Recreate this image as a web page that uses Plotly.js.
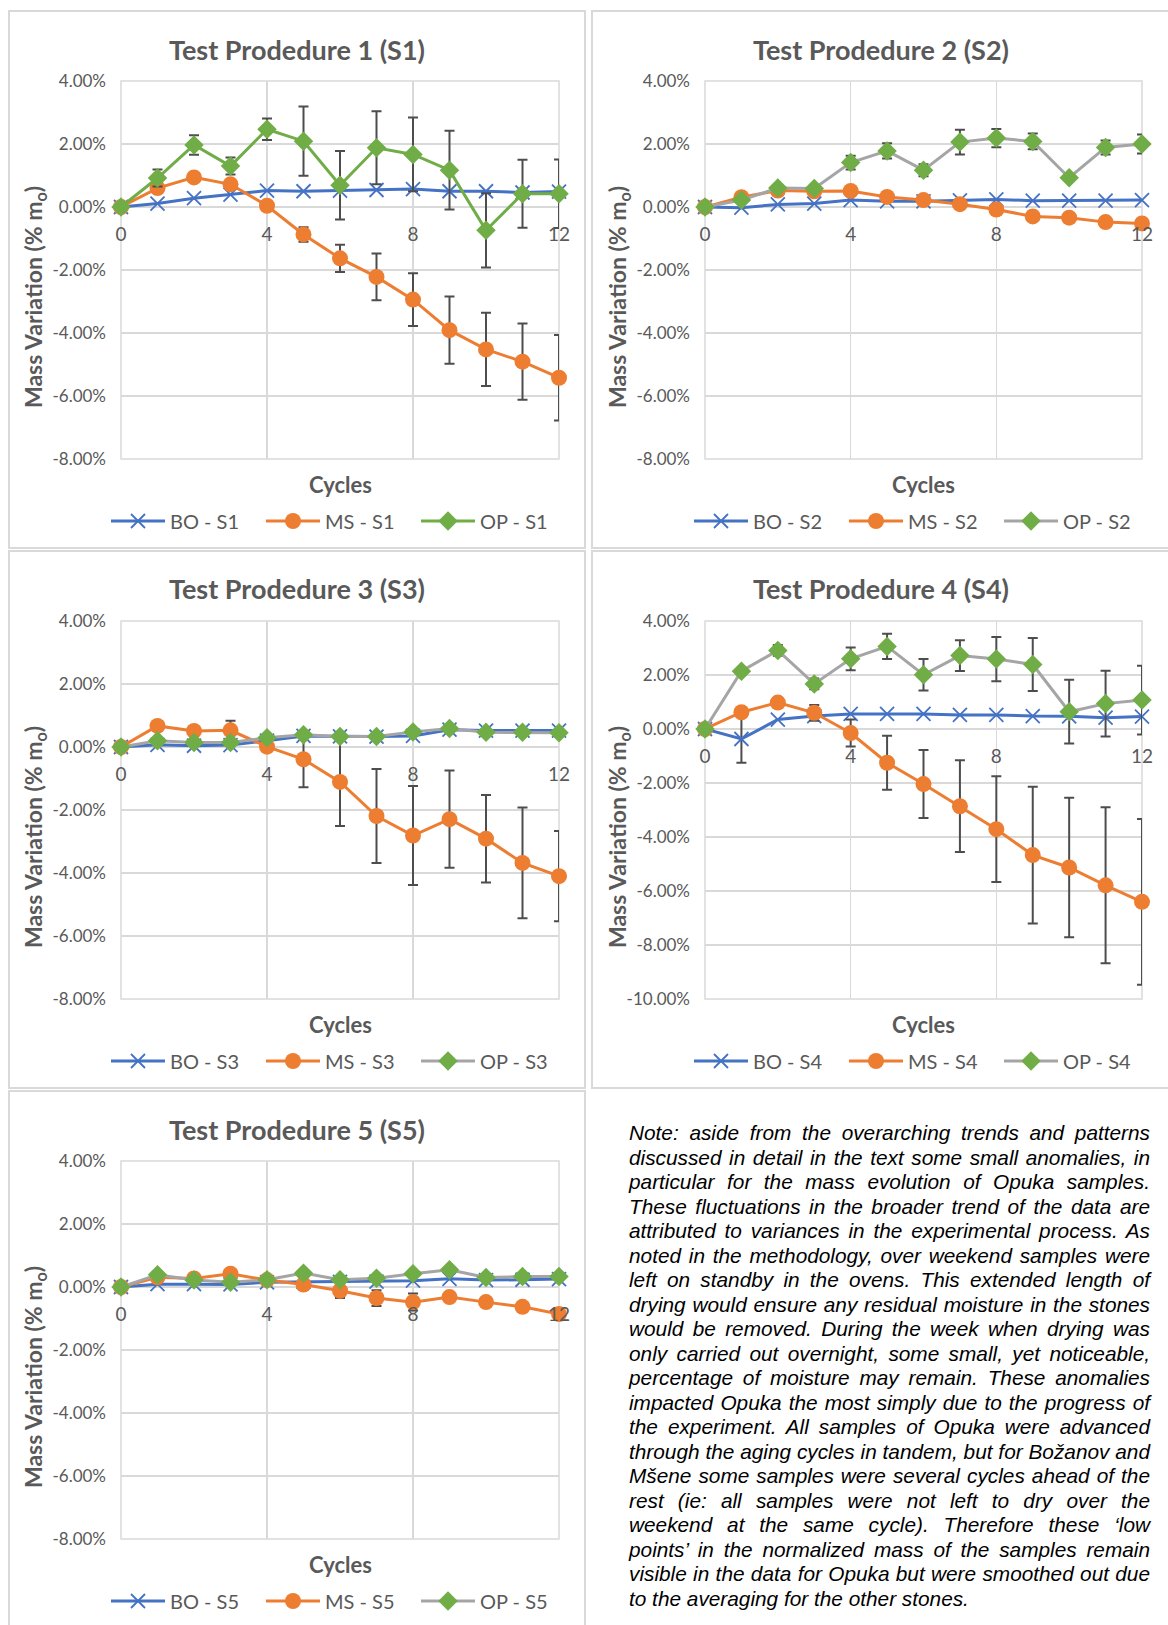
<!DOCTYPE html>
<html>
<head>
<meta charset="utf-8">
<script src="https://cdn.plot.ly/plotly-3.0.1.min.js"></script>
<style>
  html, body { margin: 0; padding: 0; background: #fff; }
  #wrap { position: relative; width: 1168px; height: 1625px; overflow: hidden; }
  #chart { position: absolute; left: 0; top: 0; width: 1168px; height: 1625px; }
  #note {
    position: absolute; left: 629px; top: 1121px; width: 521px;
    font-family: "Liberation Sans", Arial, sans-serif; font-style: italic;
    font-size: 20.8px; line-height: 24.5px; color: #000;
  }
  #note div { text-align: justify; text-align-last: justify; white-space: nowrap; }
  #note div.last { text-align-last: left; }
</style>
</head>
<body>
<div id="wrap">
  <div id="chart"></div>
  <div id="note"></div>
</div>
<script>
// Aging cycles (x axis) and tick labels
const cycles = [0, 1, 2, 3, 4, 5, 6, 7, 8, 9, 10, 11, 12];
const xTickVals = [0, 4, 8, 12];
const xTickText = ['0', '4', '8', '12'];
const yTickVals8 = [4, 2, 0, -2, -4, -6, -8];
const yTickText8 = ['4.00%', '2.00%', '0.00%', '-2.00%', '-4.00%', '-6.00%', '-8.00%'];
const yTickVals10 = [4, 2, 0, -2, -4, -6, -8, -10];
const yTickText10 = ['4.00%', '2.00%', '0.00%', '-2.00%', '-4.00%', '-6.00%', '-8.00%', '-10.00%'];

// Mass variation (% of initial mass) with standard deviations
// S1
const boS1 = [0, 0.11, 0.28, 0.39, 0.52, 0.50, 0.52, 0.54, 0.57, 0.50, 0.50, 0.46, 0.49];
const msS1 = [0, 0.60, 0.94, 0.72, 0.04, -0.87, -1.63, -2.22, -2.94, -3.91, -4.52, -4.91, -5.42];
const msS1Err = [0, 0.10, 0.10, 0.10, 0.10, 0.23, 0.43, 0.74, 0.84, 1.07, 1.16, 1.21, 1.36];
const opS1 = [0, 0.92, 1.97, 1.30, 2.47, 2.09, 0.69, 1.88, 1.67, 1.17, -0.74, 0.42, 0.42];
const opS1Err = [0, 0.27, 0.31, 0.27, 0.34, 1.10, 1.09, 1.16, 1.17, 1.25, 1.18, 1.08, 1.09];
// S2
const boS2 = [0, -0.02, 0.08, 0.11, 0.22, 0.18, 0.18, 0.21, 0.24, 0.20, 0.20, 0.20, 0.22];
const msS2 = [0, 0.31, 0.52, 0.50, 0.51, 0.32, 0.22, 0.09, -0.08, -0.30, -0.34, -0.48, -0.52];
const msS2Err = [0, 0.08, 0.08, 0.08, 0.08, 0.08, 0.08, 0.08, 0.08, 0.08, 0.08, 0.08, 0.08];
const opS2 = [0, 0.22, 0.60, 0.59, 1.41, 1.78, 1.17, 2.06, 2.19, 2.08, 0.93, 1.89, 2.00];
const opS2Err = [0, 0.05, 0.06, 0.06, 0.22, 0.24, 0.19, 0.39, 0.29, 0.25, 0.10, 0.22, 0.30];
// S3
const boS3 = [0, 0.07, 0.04, 0.06, 0.20, 0.35, 0.34, 0.33, 0.35, 0.55, 0.52, 0.52, 0.52];
const msS3 = [0, 0.67, 0.51, 0.53, 0.01, -0.39, -1.11, -2.19, -2.81, -2.29, -2.91, -3.68, -4.10];
const msS3Err = [0, 0.10, 0.10, 0.30, 0.10, 0.89, 1.40, 1.49, 1.57, 1.54, 1.39, 1.76, 1.43];
const opS3 = [0, 0.20, 0.14, 0.14, 0.29, 0.39, 0.33, 0.33, 0.48, 0.59, 0.47, 0.47, 0.45];
const opS3Err = [0, 0.05, 0.05, 0.05, 0.05, 0.05, 0.05, 0.05, 0.05, 0.05, 0.05, 0.05, 0.05];
// S4
const boS4 = [0, -0.37, 0.35, 0.48, 0.56, 0.56, 0.56, 0.52, 0.52, 0.48, 0.47, 0.42, 0.46];
const boS4Err = [NaN, 0.88, NaN, NaN, NaN, NaN, NaN, NaN, NaN, NaN, NaN, NaN, NaN];
const msS4 = [0, 0.62, 0.98, 0.60, -0.15, -1.25, -2.04, -2.86, -3.71, -4.67, -5.13, -5.79, -6.40];
const msS4Err = [0, 0.10, 0.10, 0.29, 0.50, 1.00, 1.26, 1.70, 1.96, 2.53, 2.58, 2.89, 3.07];
const opS4 = [0, 2.14, 2.91, 1.67, 2.60, 3.06, 2.01, 2.72, 2.59, 2.39, 0.64, 0.94, 1.07];
const opS4Err = [0, 0.10, 0.20, 0.20, 0.42, 0.47, 0.58, 0.57, 0.82, 0.98, 1.18, 1.22, 1.27];
// S5
const boS5 = [0, 0.09, 0.09, 0.08, 0.15, 0.16, 0.16, 0.17, 0.20, 0.26, 0.22, 0.23, 0.25];
const msS5 = [0, 0.31, 0.27, 0.42, 0.22, 0.08, -0.12, -0.35, -0.48, -0.32, -0.48, -0.63, -0.86];
const msS5Err = [0, 0.05, 0.05, 0.13, 0.05, 0.10, 0.23, 0.25, 0.27, 0.05, 0.05, 0.05, 0.05];
const opS5 = [0, 0.39, 0.22, 0.15, 0.23, 0.44, 0.23, 0.28, 0.42, 0.55, 0.30, 0.33, 0.33];
const opS5Err = [0, 0.05, 0.05, 0.05, 0.05, 0.05, 0.05, 0.05, 0.05, 0.05, 0.05, 0.05, 0.05];

const noteLines = [
  'Note: aside from the overarching trends and patterns',
  'discussed in detail in the text some small anomalies, in',
  'particular for the mass evolution of Opuka samples.',
  'These fluctuations in the broader trend of the data are',
  'attributed to variances in the experimental process. As',
  'noted in the methodology, over weekend samples were',
  'left on standby in the ovens. This extended length of',
  'drying would ensure any residual moisture in the stones',
  'would be removed. During the week when drying was',
  'only carried out overnight, some small, yet noticeable,',
  'percentage of moisture may remain. These anomalies',
  'impacted Opuka the most simply due to the progress of',
  'the experiment. All samples of Opuka were advanced',
  'through the aging cycles in tandem, but for Božanov and',
  'Mšene some samples were several cycles ahead of the',
  'rest (ie: all samples were not left to dry over the',
  'weekend at the same cycle). Therefore these ‘low',
  'points’ in the normalized mass of the samples remain',
  'visible in the data for Opuka but were smoothed out due',
  'to the averaging for the other stones.'
];

// ---- page geometry (pixels) ----
const W = 1168, H = 1625;
const px = x => x / W;
const py = y => 1 - y / H;
const colPlot = [[121, 559], [705, 1142]];
const colBox = [[9, 585], [592, 1185]];
const colCenter = [297, 881];
const rowOff = [0, 540, 1080];

const BLUE = '#4472C4', ORANGE = '#ED7D31', GREEN = '#70AD47', GRAY = '#A5A5A5';
const TXT = '#595959', GRID = '#d9d9d9', ERR = '#4d4d4d';
const FONT = 'Lato, "Open Sans", sans-serif';

const panels = [
  { n: 1, col: 0, row: 0, bo: boS1, boErr: null, ms: msS1, msErr: msS1Err, op: opS1, opErr: opS1Err, opLine: GREEN, yMin: -8, tv: yTickVals8, tt: yTickText8 },
  { n: 2, col: 1, row: 0, bo: boS2, boErr: null, ms: msS2, msErr: msS2Err, op: opS2, opErr: opS2Err, opLine: GRAY, yMin: -8, tv: yTickVals8, tt: yTickText8 },
  { n: 3, col: 0, row: 1, bo: boS3, boErr: null, ms: msS3, msErr: msS3Err, op: opS3, opErr: opS3Err, opLine: GRAY, yMin: -8, tv: yTickVals8, tt: yTickText8 },
  { n: 4, col: 1, row: 1, bo: boS4, boErr: boS4Err, ms: msS4, msErr: msS4Err, op: opS4, opErr: opS4Err, opLine: GRAY, yMin: -10, tv: yTickVals10, tt: yTickText10 },
  { n: 5, col: 0, row: 2, bo: boS5, boErr: null, ms: msS5, msErr: msS5Err, op: opS5, opErr: opS5Err, opLine: GRAY, yMin: -8, tv: yTickVals8, tt: yTickText8 }
];

const traces = [];
const layout = {
  width: W, height: H,
  margin: { l: 0, r: 0, t: 0, b: 0, autoexpand: false },
  paper_bgcolor: '#ffffff', plot_bgcolor: '#ffffff',
  hovermode: false,
  font: { family: FONT, color: TXT },
  shapes: [], annotations: []
};

function errBar(arr) {
  return { type: 'data', array: arr, visible: true, color: ERR, thickness: 2, width: 5 };
}

panels.forEach(p => {
  const sfx = p.n === 1 ? '' : String(p.n);
  const off = rowOff[p.row];
  const [L, R] = colPlot[p.col];
  const top = 81 + off, bottom = 459 + off;
  const yMax = 4;
  const zeroY = top + (yMax - 0) / (yMax - p.yMin) * (bottom - top);
  const legName = p.n === 1 ? 'legend' : 'legend' + p.n;
  const common = { x: cycles, xaxis: 'x' + sfx, yaxis: 'y' + sfx, legend: legName,
                   mode: 'lines+markers', cliponaxis: false, showlegend: true };

  const bo = Object.assign({}, common, {
    y: p.bo, name: 'BO - S' + p.n,
    line: { color: BLUE, width: 3 },
    marker: { symbol: 'x-thin', size: 14, color: BLUE, line: { color: BLUE, width: 1.8 } }
  });
  if (p.boErr) bo.error_y = errBar(p.boErr);
  traces.push(bo);
  traces.push(Object.assign({}, common, {
    y: p.ms, name: 'MS - S' + p.n, error_y: errBar(p.msErr),
    line: { color: ORANGE, width: 3 },
    marker: { symbol: 'circle', size: 16, color: ORANGE }
  }));
  traces.push(Object.assign({}, common, {
    y: p.op, name: 'OP - S' + p.n, error_y: errBar(p.opErr),
    line: { color: p.opLine, width: 3 },
    marker: { symbol: 'diamond', size: 15, color: GREEN }
  }));

  layout['xaxis' + sfx] = {
    domain: [px(L), px(R)], range: [0, 12], anchor: 'free', position: py(zeroY),
    tickmode: 'array', tickvals: xTickVals, ticktext: xTickText,
    showgrid: true, gridcolor: GRID, gridwidth: 1.5, zeroline: false, showline: false,
    ticks: '', ticklabelstandoff: 14, fixedrange: true,
    tickfont: { family: FONT, size: 19, color: TXT }
  };
  layout['yaxis' + sfx] = {
    domain: [py(bottom), py(top)], range: [p.yMin, yMax], anchor: 'x' + sfx,
    tickmode: 'array', tickvals: p.tv, ticktext: p.tt,
    showgrid: true, gridcolor: GRID, gridwidth: 1.5,
    zeroline: true, zerolinecolor: GRID, zerolinewidth: 1.5, showline: false,
    ticks: '', ticklabelstandoff: 14, fixedrange: true,
    tickfont: { family: FONT, size: 17, color: TXT }
  };

  layout[legName] = {
    orientation: 'h', xanchor: 'left', yanchor: 'middle',
    x: px(p.col === 0 ? 106 : 689), y: py(521 + off),
    font: { family: FONT, size: 20, color: TXT },
    bgcolor: 'rgba(0,0,0,0)', borderwidth: 0,
    itemwidth: 54, entrywidth: 86, entrywidthmode: 'pixels',
    traceorder: 'normal', itemclick: false, itemdoubleclick: false
  };

  // plot-area frame (edge grid lines)
  layout.shapes.push({
    type: 'rect', xref: 'x' + sfx + ' domain', yref: 'y' + sfx + ' domain',
    x0: 0, x1: 1, y0: 0, y1: 1,
    line: { color: GRID, width: 1.5 }, fillcolor: 'rgba(0,0,0,0)', layer: 'below'
  });

  // panel frame
  const [bL, bR] = colBox[p.col];
  layout.shapes.push({
    type: 'rect', xref: 'paper', yref: 'paper',
    x0: px(bL), x1: px(bR), y0: py(11 + off), y1: py(p.row === 2 ? 1640 : 548 + off),
    line: { color: GRID, width: 2 }, fillcolor: 'rgba(0,0,0,0)', layer: 'below'
  });

  // chart title, axis titles
  layout.annotations.push({
    xref: 'paper', yref: 'paper', x: px(colCenter[p.col]), y: py(49 + off),
    xanchor: 'center', yanchor: 'middle', showarrow: false,
    text: 'Test Prodedure ' + p.n + ' (S' + p.n + ')',
    font: { family: FONT, size: 27, color: TXT, weight: 'bold' }
  });
  layout.annotations.push({
    xref: 'paper', yref: 'paper', x: px(p.col === 0 ? 34 : 618), y: py(297 + off),
    xanchor: 'center', yanchor: 'middle', showarrow: false, textangle: -90,
    text: 'Mass Variation (% m<sub>o</sub>)',
    font: { family: FONT, size: 23, color: TXT, weight: 'bold' }
  });
  layout.annotations.push({
    xref: 'paper', yref: 'paper', x: px((L + R) / 2), y: py(484 + off),
    xanchor: 'center', yanchor: 'middle', showarrow: false,
    text: 'Cycles',
    font: { family: FONT, size: 22, color: TXT, weight: 'bold' }
  });
});

Plotly.newPlot('chart', traces, layout, { staticPlot: true, displayModeBar: false });

const note = document.getElementById('note');
noteLines.forEach((t, i) => {
  const d = document.createElement('div');
  d.textContent = t;
  if (i === noteLines.length - 1) d.className = 'last';
  note.appendChild(d);
});
</script>
</body>
</html>
